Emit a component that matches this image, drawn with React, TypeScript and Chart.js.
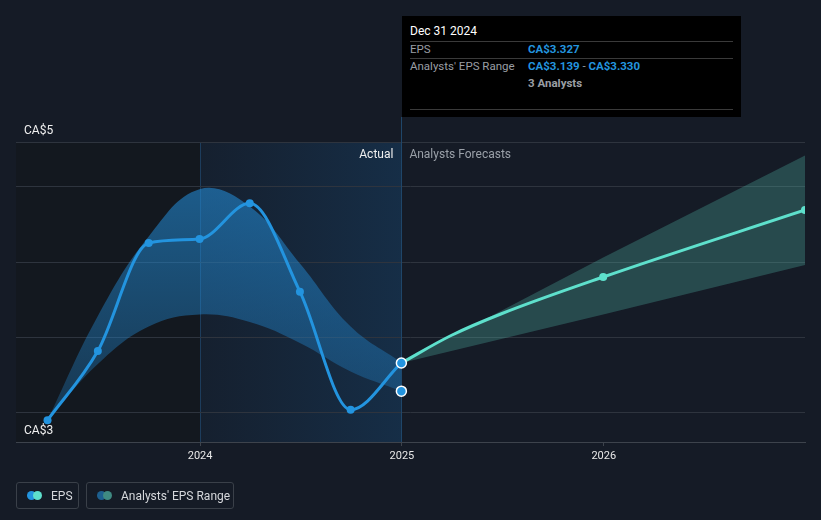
import React, { useEffect, useRef } from 'react';
import { Chart, registerables } from 'chart.js';
Chart.register(...registerables);

const histDates = ['2023-03-31', '2023-06-30', '2023-09-30', '2023-12-31', '2024-03-31', '2024-06-30', '2024-09-30', '2024-12-31'];
const histEps = [2.945, 3.407, 4.127, 4.153, 4.391, 3.802, 3.015, 3.327];
const histRangeHigh = [2.945, 3.64, 4.17, 4.485, 4.37, 3.99, 3.57, 3.33];
const histRangeLow = [2.945, 3.32, 3.57, 3.65, 3.6, 3.46, 3.27, 3.139];

const fcLineDates = ['2024-12-31', '2025-03-31', '2025-06-30', '2025-12-31', '2026-12-31'];
const fcLineEps = [3.327, 3.51, 3.655, 3.9, 4.347];
const fcLineMarked = [false, false, false, true, true];

const fcRangeDates = ['2024-12-31', '2025-12-31', '2026-12-31'];
const fcRangeHigh = [3.327, 4.03, 4.71];
const fcRangeLow = [3.327, 3.65, 3.98];

const xTickYears = [2024, 2025, 2026];
const yGridValues = [3, 3.5, 4, 4.5, 4.8];
const yLabelValues = [5, 3];
const yLabelTexts = ['CA$5', 'CA$3'];
const xStart = '2023-02-02';
const xEnd = '2026-12-31';
const tooltipDate = '2024-12-31';

const FONT = 'Roboto, "Noto Sans", sans-serif';

function toYear(d: string): number {
  const [y, m, dd] = d.split('-').map(Number);
  const s = Date.UTC(y, 0, 1);
  const e = Date.UTC(y + 1, 0, 1);
  return y + (Date.UTC(y, m - 1, dd) - s) / (e - s);
}

function pts(dates: string[], vals: number[]) {
  return dates.map((d, i) => ({ x: toYear(d), y: vals[i] }));
}

const bgPlugin = {
  id: 'bgPlugin',
  beforeDraw(chart: any) {
    const { ctx, chartArea, scales } = chart;
    const x = scales.x;
    ctx.save();
    ctx.fillStyle = '#151b26';
    ctx.fillRect(0, 0, chart.width, chart.height);
    const x24 = x.getPixelForValue(xTickYears[0]);
    const xT = x.getPixelForValue(toYear(tooltipDate));
    ctx.fillStyle = '#13181f';
    ctx.fillRect(chartArea.left, chartArea.top, x24 - chartArea.left, chartArea.bottom - chartArea.top);
    const g = ctx.createLinearGradient(x24, 0, xT, 0);
    g.addColorStop(0, 'rgba(24,90,150,0.08)');
    g.addColorStop(1, 'rgba(24,100,165,0.26)');
    ctx.fillStyle = g;
    ctx.fillRect(x24, chartArea.top, xT - x24, chartArea.bottom - chartArea.top);
    ctx.strokeStyle = 'rgba(40,100,150,0.45)';
    ctx.lineWidth = 1;
    ctx.beginPath();
    ctx.moveTo(Math.round(x24) + 0.5, chartArea.top);
    ctx.lineTo(Math.round(x24) + 0.5, chartArea.bottom);
    ctx.stroke();
    ctx.restore();
  },
  beforeDatasetsDraw(chart: any) {
    const { ctx, chartArea, scales } = chart;
    const xT = scales.x.getPixelForValue(toYear(tooltipDate));
    ctx.save();
    ctx.strokeStyle = '#1f4669';
    ctx.lineWidth = 1;
    ctx.beginPath();
    ctx.moveTo(Math.round(xT) + 0.5, 117);
    ctx.lineTo(Math.round(xT) + 0.5, chartArea.bottom);
    ctx.stroke();
    ctx.restore();
  },
  afterDraw(chart: any) {
    const { ctx, chartArea, scales } = chart;
    const y = scales.y;
    const xT = scales.x.getPixelForValue(toYear(tooltipDate));
    ctx.save();
    ctx.font = `12px ${FONT}`;
    ctx.textBaseline = 'middle';
    ctx.fillStyle = '#f0f0f0';
    ctx.textAlign = 'left';
    yLabelValues.forEach((v, i) => {
      ctx.fillText(yLabelTexts[i], chartArea.left + 8, y.getPixelForValue(v) + 18.5);
    });
    ctx.textAlign = 'right';
    ctx.fillStyle = '#f0f0f0';
    ctx.fillText('Actual', xT - 8, chartArea.top + 12.5);
    ctx.textAlign = 'left';
    ctx.fillStyle = '#9aa0a8';
    ctx.fillText('Analysts Forecasts', xT + 8, chartArea.top + 12.5);
    ctx.restore();
  },
};

export default function App() {
  const ref = useRef<HTMLCanvasElement>(null);
  useEffect(() => {
    document.body.style.margin = '0';
    document.body.style.background = '#151b26';
    const canvas = ref.current!;
    const bandBlue = (c: any) => {
      const ch = c.chart;
      const ca = ch.chartArea;
      if (!ca) return 'rgba(35,148,223,0.4)';
      const g = ch.ctx.createLinearGradient(0, ch.scales.y.getPixelForValue(4.5), 0, ch.scales.y.getPixelForValue(3));
      g.addColorStop(0, 'rgba(35,140,215,0.58)');
      g.addColorStop(1, 'rgba(35,140,215,0.28)');
      return g;
    };
    const tx = toYear(tooltipDate);
    const chart = new Chart(canvas, {
      type: 'line',
      data: {
        datasets: [
          {
            data: pts(histDates, histRangeLow),
            borderWidth: 0,
            pointRadius: 0,
            fill: false,
            tension: 0.4,
            order: 10,
          } as any,
          {
            data: pts(histDates, histRangeHigh),
            borderWidth: 0,
            pointRadius: 0,
            fill: { target: 0 },
            backgroundColor: bandBlue,
            tension: 0.4,
            order: 10,
          },
          {
            data: pts(fcRangeDates, fcRangeLow),
            borderWidth: 0,
            pointRadius: 0,
            fill: false,
            tension: 0,
            order: 10,
          },
          {
            data: pts(fcRangeDates, fcRangeHigh),
            borderWidth: 0,
            pointRadius: 0,
            fill: { target: 2 },
            backgroundColor: 'rgba(88,205,185,0.27)',
            tension: 0,
            order: 10,
          },
          {
            data: pts(histDates, histEps),
            borderColor: '#2394df',
            backgroundColor: '#2394df',
            borderWidth: 3,
            pointRadius: 4,
            pointBorderWidth: 0,
            fill: false,
            cubicInterpolationMode: 'monotone',
            order: 2,
          },
          {
            data: pts(fcLineDates, fcLineEps),
            borderColor: '#5ee0cc',
            backgroundColor: '#5ee0cc',
            borderWidth: 3,
            pointRadius: fcLineMarked.map((m) => (m ? 4 : 0)),
            pointBorderWidth: 0,
            fill: false,
            cubicInterpolationMode: 'monotone',
            order: 1,
          },
          {
            data: [
              { x: tx, y: histEps[histEps.length - 1] },
              { x: tx, y: histRangeLow[histRangeLow.length - 1] },
            ],
            showLine: false,
            pointRadius: 5,
            pointBorderWidth: 1.5,
            pointBorderColor: '#ffffff',
            pointBackgroundColor: '#2394df',
            order: 0,
          },
        ],
      },
      options: {
        animation: false,
        responsive: true,
        maintainAspectRatio: false,
        layout: { padding: { left: 16, right: 16, top: 142, bottom: 0 } },
        plugins: { legend: { display: false }, tooltip: { enabled: false } },
        events: [],
        scales: {
          x: {
            type: 'linear',
            min: toYear(xStart),
            max: toYear(xEnd),
            afterBuildTicks: (a: any) => {
              a.ticks = xTickYears.map((v) => ({ value: v }));
            },
            afterFit: (a: any) => {
              a.height = 78;
            },
            ticks: {
              callback: (v: any) => String(v),
              color: '#e8e8e8',
              font: { family: FONT, size: 11 },
              padding: 4,
              maxRotation: 0,
            },
            grid: { drawOnChartArea: false, drawTicks: true, tickLength: 4, color: '#3d434c' },
            border: { display: true, color: '#3d434c' },
          },
          y: {
            type: 'linear',
            min: 2.8,
            max: 4.8,
            afterBuildTicks: (a: any) => {
              a.ticks = yGridValues.map((v) => ({ value: v }));
            },
            afterFit: (a: any) => {
              a.width = 0;
            },
            ticks: { display: false },
            grid: { color: '#2e343e', drawTicks: false },
            border: { display: false },
          },
        },
      } as any,
      plugins: [bgPlugin],
    });
    return () => chart.destroy();
  }, []);

  const legendBox: React.CSSProperties = {
    position: 'absolute',
    top: 482,
    height: 27,
    boxSizing: 'border-box',
    border: '1px solid #3a4049',
    borderRadius: 3,
    display: 'flex',
    alignItems: 'center',
    color: '#d6d8dc',
    fontSize: 12,
    fontFamily: FONT,
  };
  const dot = (c: string, left: number): React.CSSProperties => ({
    position: 'absolute',
    left,
    top: 8,
    width: 9,
    height: 9,
    borderRadius: '50%',
    background: c,
  });
  const row: React.CSSProperties = { position: 'absolute', left: 8, fontSize: 11.5, whiteSpace: 'nowrap' };

  return (
    <div style={{ position: 'relative', width: 821, height: 520, background: '#151b26', overflow: 'hidden' }}>
      <canvas ref={ref} style={{ position: 'absolute', left: 0, top: 0 }} />
      <div
        style={{
          position: 'absolute',
          left: 402,
          top: 16,
          width: 339,
          height: 101,
          background: '#000',
          fontFamily: FONT,
          color: '#9a9ea4',
        }}
      >
        <div style={{ ...row, top: 8, color: '#ffffff', fontSize: 12 }}>Dec 31 2024</div>
        <div style={{ position: 'absolute', left: 8, right: 8, top: 25, height: 1, background: '#3a3a3a' }} />
        <div style={{ ...row, top: 26 }}>EPS</div>
        <div style={{ ...row, left: 126, top: 26, color: '#2394df', fontWeight: 700 }}>CA$3.327</div>
        <div style={{ position: 'absolute', left: 8, right: 8, top: 42, height: 1, background: '#3a3a3a' }} />
        <div style={{ ...row, top: 43 }}>Analysts' EPS Range</div>
        <div style={{ ...row, left: 126, top: 43, color: '#2394df', fontWeight: 700 }}>
          CA$3.139 <span style={{ color: '#9a9ea4', fontWeight: 400 }}>-</span> CA$3.330
        </div>
        <div style={{ ...row, left: 126, top: 60, color: '#9a9ea4', fontWeight: 700 }}>3 Analysts</div>
        <div style={{ position: 'absolute', left: 8, right: 8, top: 93, height: 1, background: '#3a3a3a' }} />
      </div>
      <div style={{ ...legendBox, left: 16, width: 63 }}>
        <span style={dot('#2394df', 10)} />
        <span style={dot('#5ee0cc', 16)} />
        <span style={{ position: 'absolute', left: 34 }}>EPS</span>
      </div>
      <div style={{ ...legendBox, left: 86, width: 148 }}>
        <span style={dot('#1d5f8f', 10)} />
        <span style={dot('#3f8a82', 16)} />
        <span style={{ position: 'absolute', left: 34 }}>Analysts' EPS Range</span>
      </div>
    </div>
  );
}
